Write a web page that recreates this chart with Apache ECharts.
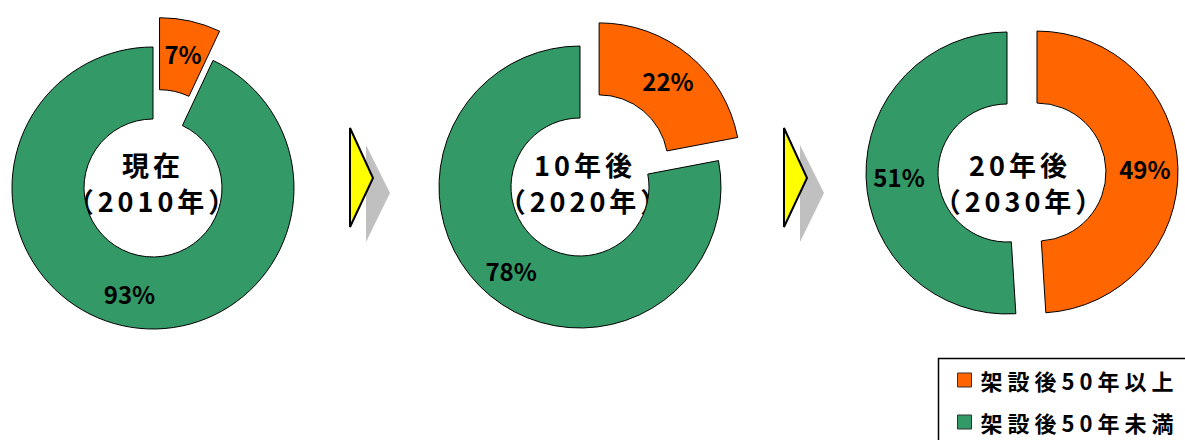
<!DOCTYPE html>
<html>
<head>
<meta charset="utf-8">
<script src="https://cdn.jsdelivr.net/npm/echarts@6/dist/echarts.min.js"></script>
<style>
  html, body { margin: 0; padding: 0; background: #fff; }
  #chart { width: 1185px; height: 440px; }
  /* wider tracking for the legend and ring titles */
  #chart text[style*="22px"] { letter-spacing: 5px; }
  #chart text[style*="27px"] { letter-spacing: 4px; }
</style>
</head>
<body>
<div id="chart"></div>
<script>
// Share of bridges by age since construction
const seriesNames = ['架設後50年以上', '架設後50年未満'];
const periodTitles = ['現在', '10年後', '20年後'];
const periodYears = ['（2010年）', '（2020年）', '（2030年）'];
const over50 = [7, 22, 49];
const under50 = [93, 78, 51];

const colors = ['#FF6600', '#339966'];
const font = "'Noto Sans CJK JP', sans-serif";

// donut placement
const centers = [[153, 188], [580, 187], [1007, 173]];
const textCenters = [[153, 182], [585, 182], [1020, 182]];
const radius = [69, 141];

const chart = echarts.init(document.getElementById('chart'), null, { renderer: 'svg' });

const series = periodTitles.map((t, i) => ({
  type: 'pie',
  name: t,
  center: centers[i],
  radius: radius,
  startAngle: 90,
  clockwise: true,
  selectedMode: 'single',
  selectedOffset: 30,
  avoidLabelOverlap: false,
  animation: false,
  emphasis: { disabled: true },
  itemStyle: { borderColor: '#000', borderWidth: 1 },
  label: {
    show: true,
    position: 'inside',
    formatter: '{c}%',
    color: '#000',
    fontSize: 24,
    fontWeight: 'bold',
    fontFamily: font
  },
  labelLine: { show: false },
  data: [
    { name: seriesNames[0], value: over50[i], selected: true, itemStyle: { color: colors[0] } },
    { name: seriesNames[1], value: under50[i], itemStyle: { color: colors[1] } }
  ]
}));

const graphics = [];
// titles inside each ring
periodTitles.forEach((t, i) => {
  graphics.push({
    type: 'text',
    x: textCenters[i][0],
    y: textCenters[i][1],
    style: {
      text: t + '\n' + periodYears[i],
      textAlign: 'center',
      textVerticalAlign: 'middle',
      lineHeight: 36,
      fontSize: 27,
      fontWeight: 'bold',
      fontFamily: font,
      fill: '#000'
    }
  });
});
// arrows between rings: grey shadow under a yellow outlined triangle
[350, 784].forEach(x0 => {
  graphics.push({
    type: 'polygon',
    shape: { points: [[x0 + 16, 145], [x0 + 40, 193], [x0 + 16, 242]] },
    style: { fill: '#C0C0C0' }
  });
  graphics.push({
    type: 'polygon',
    shape: { points: [[x0, 128], [x0 + 23, 178], [x0, 227]] },
    style: { fill: '#FFFF00', stroke: '#000', lineWidth: 2 }
  });
});
// legend frame
graphics.push({
  type: 'rect',
  z: -1,
  shape: { x: 938.5, y: 358.5, width: 300, height: 120 },
  style: { fill: '#fff', stroke: '#000', lineWidth: 1.5 }
});

chart.setOption({
  backgroundColor: '#fff',
  animation: false,
  legend: {
    show: true,
    orient: 'vertical',
    left: 957,
    top: 369,
    padding: 0,
    itemGap: 20,
    itemWidth: 14,
    itemHeight: 14,
    icon: 'rect',
    selectedMode: false,
    itemStyle: { borderColor: '#333', borderWidth: 1 },
    data: seriesNames,
    textStyle: {
      fontSize: 22,
      fontWeight: 'bold',
      fontFamily: font,
      color: '#000',
      padding: [0, 0, 0, 4]
    }
  },
  graphic: graphics,
  series: series
});
</script>
</body>
</html>
